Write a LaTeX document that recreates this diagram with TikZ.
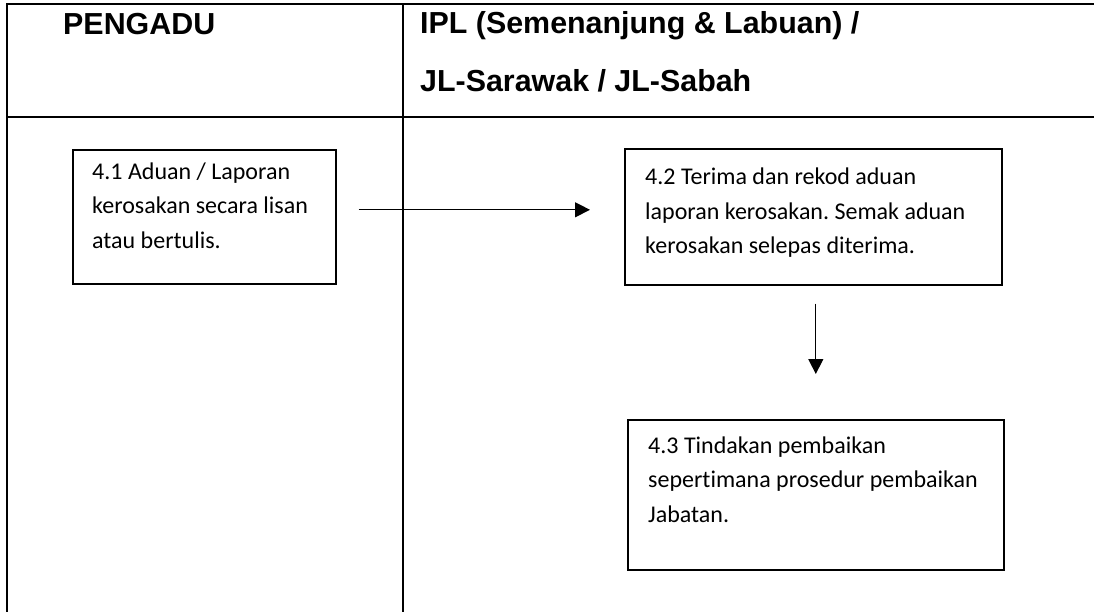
\documentclass[tikz,border=0pt]{standalone}
\usepackage{fontspec}
\setmainfont{Carlito}[Ligatures=CommonOff]
\newfontfamily\headfont{Liberation Sans}
\usetikzlibrary{arrows.meta}
\frenchspacing

\begin{document}
\begin{tikzpicture}[x=1pt, y=-1pt, line join=miter,
    grid/.style={line width=2pt, black},
    box/.style={draw, line width=1.6pt, inner sep=0pt, anchor=north west},
    boxtext/.style={inner sep=0pt, anchor=base west, align=left,
        font=\fontsize{24}{34.5}\selectfont},
    head/.style={inner sep=0pt, anchor=base west,
        font=\headfont\bfseries\fontsize{30.4}{36}\selectfont},
    flow/.style={line width=1.2pt, -{Triangle[length=15pt, width=15pt]}}]
    % ukuran gambar
    \useasboundingbox (0,0) rectangle (1094,612);

    % garis jadual
    \coordinate (TL) at (7,4);
    \coordinate (TR) at (1094,4);
    \coordinate (BL) at (7,612);
    \coordinate (HL) at (7,117);
    \coordinate (HR) at (1094,117);
    \coordinate (CT) at (403,4);
    \coordinate (CB) at (403,612);
    \draw[grid] (BL) -- (TL) -- (TR);
    \draw[grid] (HL) -- (HR);
    \draw[grid] (CT) -- (CB);

    % tajuk lajur
    \node[head] (hpengadu) at (63,35) {PENGADU};
    \node[head] (hipl) at (420,34) {IPL (Semenanjung \& Labuan) /};
    \node[head] (hjl) at (420,92) {JL-Sarawak / JL-Sabah};

    % kotak langkah
    \node[box, minimum width=263pt, minimum height=134pt] (b41) at (72,149) {};
    \node[box, minimum width=377pt, minimum height=136pt] (b42) at (624,148) {};
    \node[box, minimum width=376pt, minimum height=150pt] (b43) at (627,419) {};

    % teks dalam kotak (base = garis terakhir)
    \node[boxtext] (t41) at (92,248) {4.1 Aduan / Laporan\\kerosakan secara lisan\\atau bertulis.};
    \node[boxtext] (t42) at (645,254) {4.2 Terima dan rekod aduan\\laporan kerosakan. Semak aduan\\kerosakan selepas diterima.};
    \node[boxtext] (t43) at (648,522) {4.3 Tindakan pembaikan\\sepertimana prosedur pembaikan\\Jabatan.};

    % anak panah
    \draw[flow, shorten <=22pt, shorten >=34pt] ([yshift=7pt]b41.east) -- ([yshift=7pt]b42.west);
    \draw[flow, shorten <=18pt, shorten >=45pt] (b42.south -| b43.north) -- (b43.north);
\end{tikzpicture}
\end{document}
